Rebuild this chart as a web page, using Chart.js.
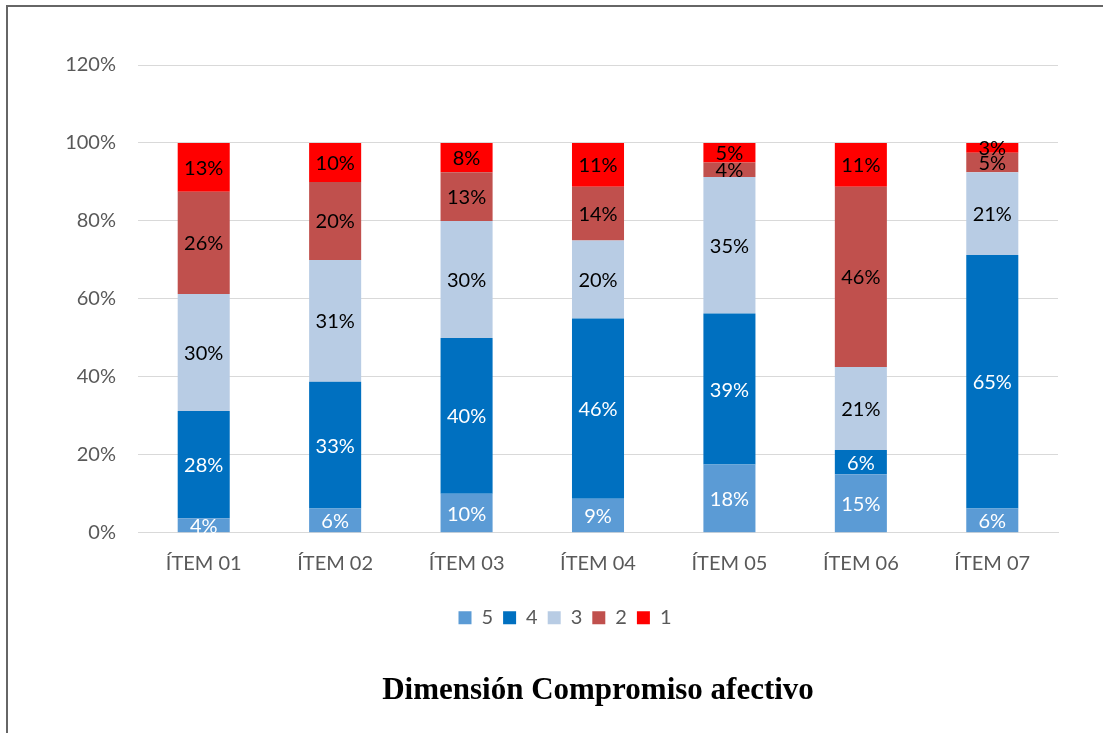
<!DOCTYPE html>
<html lang="es">
<head>
<meta charset="utf-8">
<title>Dimensión Compromiso afectivo</title>
<script src="https://cdn.jsdelivr.net/npm/chart.js@4.4.1/dist/chart.umd.min.js"></script>
<style>
  html, body { margin: 0; padding: 0; background: #fff; }
  #wrap { position: relative; width: 1103px; height: 733px; overflow: hidden; }
  #frame { position: absolute; left: 6px; top: 5px; width: 1200px; height: 800px;
           border-left: 2px solid #666; border-top: 2px solid #666; box-sizing: border-box; }
  canvas { position: absolute; left: 0; top: 0; }
</style>
</head>
<body>
<div id="wrap">
  <div id="frame"></div>
  <canvas id="chart" width="1103" height="733"></canvas>
</div>
<script>
// Items of the "Compromiso afectivo" dimension
const categories = ['ÍTEM 01', 'ÍTEM 02', 'ÍTEM 03', 'ÍTEM 04', 'ÍTEM 05', 'ÍTEM 06', 'ÍTEM 07'];

// Share of answers per Likert level (percent of 80 respondents)
const level5 = [3.75, 6.25, 10.0, 8.75, 17.5, 15.0, 6.25];
const level4 = [27.5, 32.5, 40.0, 46.25, 38.75, 6.25, 65.0];
const level3 = [30.0, 31.25, 30.0, 20.0, 35.0, 21.25, 21.25];
const level2 = [26.25, 20.0, 12.5, 13.75, 3.75, 46.25, 5.0];
const level1 = [12.5, 10.0, 7.5, 11.25, 5.0, 11.25, 2.5];

const seriesNames = ['5', '4', '3', '2', '1'];
const yTicks = [0, 20, 40, 60, 80, 100, 120];

const FONT = 'Lato, "Open Sans", sans-serif';

// Percentage labels centred in each segment
const segmentLabels = {
  id: 'segmentLabels',
  afterDatasetsDraw(chart) {
    const ctx = chart.ctx;
    ctx.save();
    ctx.font = '20px ' + FONT;
    ctx.textAlign = 'center';
    ctx.textBaseline = 'middle';
    chart.data.datasets.forEach((ds, di) => {
      const meta = chart.getDatasetMeta(di);
      if (meta.hidden) return;
      meta.data.forEach((bar, i) => {
        const v = ds.data[i];
        const p = bar.getProps(['x', 'y', 'base'], true);
        ctx.fillStyle = ds.labelColor;
        ctx.fillText(Math.round(v) + '%', p.x, (p.y + p.base) / 2 + 1);
      });
    });
    ctx.restore();
  }
};

// Nudge the legend row a little to the right of the canvas centre
const legendOffset = {
  id: 'legendOffset',
  afterLayout(chart) {
    if (chart.legend) {
      chart.legend.left += 8;
      chart.legend.right += 8;
    }
  }
};

new Chart(document.getElementById('chart'), {
  type: 'bar',
  data: {
    labels: categories,
    datasets: [
      { label: seriesNames[0], data: level5, backgroundColor: '#5B9BD5', labelColor: '#ffffff' },
      { label: seriesNames[1], data: level4, backgroundColor: '#0070C0', labelColor: '#ffffff' },
      { label: seriesNames[2], data: level3, backgroundColor: '#B8CCE4', labelColor: '#000000' },
      { label: seriesNames[3], data: level2, backgroundColor: '#C0504D', labelColor: '#000000' },
      { label: seriesNames[4], data: level1, backgroundColor: '#FF0000', labelColor: '#000000' }
    ]
  },
  options: {
    responsive: false,
    animation: false,
    devicePixelRatio: 1,
    datasets: { bar: { barPercentage: 1, categoryPercentage: 0.396, borderWidth: 0 } },
    layout: { padding: { left: 56, right: 45, top: 65, bottom: 0 } },
    scales: {
      x: {
        stacked: true,
        grid: { display: false, drawTicks: false },
        border: { display: true, color: '#d9d9d9', width: 1 },
        ticks: { color: '#595959', font: { family: FONT, size: 20 }, padding: 19 },
        afterFit(scale) { scale.height = 65; }
      },
      y: {
        stacked: true,
        min: 0,
        max: 120,
        afterBuildTicks(scale) { scale.ticks = yTicks.map(v => ({ value: v })); },
        grid: { color: '#d9d9d9', lineWidth: 1, drawTicks: false },
        border: { display: false },
        ticks: {
          color: '#595959',
          font: { family: FONT, size: 20 },
          padding: 22,
          callback: v => v + '%'
        },
        afterFit(scale) { scale.width = 82; }
      }
    },
    plugins: {
      tooltip: { enabled: false },
      legend: {
        position: 'bottom',
        labels: {
          boxWidth: 13,
          boxHeight: 13,
          padding: 10,
          color: '#595959',
          font: { family: FONT, size: 20 }
        }
      },
      title: {
        display: true,
        position: 'bottom',
        fullSize: false,
        text: 'Dimensión Compromiso afectivo',
        color: '#000000',
        font: { family: '"Liberation Serif", "Times New Roman", serif', size: 31, weight: 'bold' },
        padding: { top: 35, bottom: 23 }
      }
    }
  },
  plugins: [segmentLabels, legendOffset]
});
</script>
</body>
</html>
